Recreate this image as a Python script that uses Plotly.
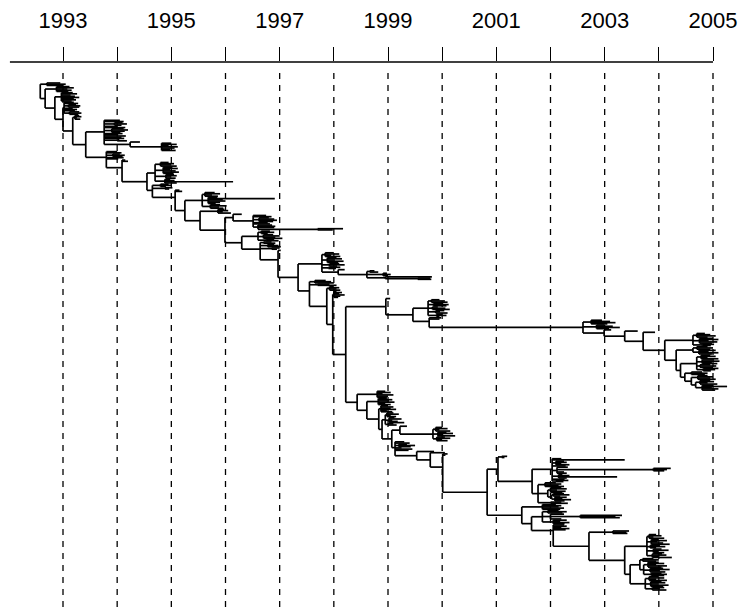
import re
import plotly.graph_objects as go

# Dated phylogeny.  Every node is written as "(child,child,...)date" and every
# tip as its sampling date (decimal years).  Clades are split into named
# pieces; "{NAME}" inserts another piece.
ROOT = "((1992.95,1993.05,1993.0)1992.7,((1993.12,1993.2,1993.08,1993.16,1993.1)1992.88,((1993.18,1993.26,1993.14,1993.22,1993.3,1993.2,1993.24,1993.16)1992.97,((1993.2,1993.28,(1993.24,1993.32,1993.3)1993.1,1993.18,1993.26,1993.22,(1993.3,1993.34,1993.28)1993.12)1993.02,((1993.3,1993.34,1993.26,1993.32)1993.22,{G})1993.18)1993.0)1992.85)1992.67)1992.58"
G = "({H},{I})1993.42"
H = "(1994.05,1994.12,(1994.1,1994.18,1994.08)1993.95,1994.0,1994.15,(1994.12,1994.2,1994.14,1994.06)1993.9,1994.1,1994.02,1994.16,1994.08,1994.13,(1994.04,1994.18)1994.0,{HSUB})1993.76"
HSUB = "(1994.42,(1995.0,1995.1,1994.95,1995.12,1995.06,1994.98,1995.08)1994.82)1994.24"
I = "(1994.0,1994.08,(1994.05,1994.14,1994.1)1993.92,1994.12,1994.02,(1994.15,1994.2,{J})1994.09)1993.8"
J = "({K},{L})1994.55"
K = "((1994.95,1995.05,1995.0,1995.1)1994.8,(1995.02,1995.12,1994.98,1995.08,1995.14,1995.04)1994.85,(1995.05,1995.1,1995.0,1995.08)1994.9,(1994.98,1995.06,1996.14,1995.1)1994.88)1994.7"
L = "((1994.95,1995.0,1994.9)1994.8,(1995.02,1994.96)1994.88,{M})1994.65"
M = "(1995.15,1995.2,{N})1995.07"
N = "({O},{P})1995.25"
O = "((1995.8,1995.9,1995.75,1995.86)1995.62,(1995.85,1996.91,1995.95,1996.0,1995.9,1995.82)1995.68,(1995.9,1996.02,1995.88,1995.96)1995.72)1995.57"
P = "({Q},{R2})1995.53"
Q = "(1995.98,1996.05,1995.95,1996.1)1995.86"
R2 = "({S},{T})1995.99"
S = "(1996.3,(1996.75,1996.85,(1996.8,1996.9,1996.95,1996.88)1996.62,1996.78,1996.82,(1996.86,1996.92,1996.9,(1998.17,1997.98)1997.7)1996.6)1996.51)1996.14"
T = "({U},{V})1996.3"
U = "((1996.82,1996.9,1996.78)1996.66,(1996.88,1997.0,1996.92,1997.05)1996.7,(1996.9,1996.98)1996.75)1996.6"
V = "((1996.85,1996.92)1996.7,(1996.9,1996.98,1997.02)1996.78,(1997.0,1996.95)1996.85,(1997.02,1996.98,{W})1996.97)1996.64"
W = "({X1},{Y1})1997.34"
X1 = "((1998.0,1998.1,1997.95,1998.12)1997.84,(1998.05,1998.15,1998.02,1998.18,1998.08)1997.88,(1998.1,1998.2,1998.06)1997.92,(1998.12,1998.04)1997.9,(1998.2,{X1B})1998.08)1997.78"
X1B = "((1998.75,1998.82)1998.66,(1998.98,1999.05,1999.0)1998.91,(1999.81,(1999.78,1999.8)1999.55)1998.95)1998.61"
Y1 = "((1997.85,1997.95,1998.0)1997.65,(1997.92,1998.05)1997.7,{N327})1997.55"
N327 = "((1998.0,1998.1,1998.05,1998.12)1997.92,{Z})1997.87"
Z = "((1998.05,1998.15,1998.1,1998.2,1998.12,1998.08)1998.0,{AA})1997.98"
AA = "({BB},{GG})1998.22"
BB = "(1999.04,{CC})1998.96"
CC = "({DD},{EE})1999.46"
DD = "((1999.95,2000.05,2000.1)1999.8,(2000.02,2000.12,2000.08)1999.84,(1999.92,2000.06,2000.14)1999.82,(2000.04,1999.96,2000.1)1999.88,(2000.0,2000.08,1999.95)1999.9)1999.74"
EE = "(1999.98,1999.95,{FF})1999.76"
FF = "((2002.95,2003.1,2003.2,2003.05)2002.75,(2003.0,2003.15,2003.28,2003.08)2002.85,{N605})2002.6"
N605 = "(2003.12,{N625})2002.99"
N625 = "(2003.61,{N643})2003.37"
N643 = "(2003.93,{N665})2003.71"
N665 = "({C1},{N676})2004.11"
C1 = "((2004.85,2004.95,2005.05,2004.9)2004.7,(2005.0,2005.1,2004.92,2005.08,2004.98)2004.75,(2005.02,2004.96)2004.8)2004.63"
N676 = "({C2},{N680})2004.32"
C2 = "((2004.9,2005.0,2004.95)2004.7,(2005.05,2004.92,2005.1,2004.98)2004.74)2004.63"
N680 = "({C3},{C4})2004.4"
C3 = "((2004.95,2005.05,2004.9,2005.1)2004.78,(2005.02,2005.12,2004.98,2005.08)2004.8,(2004.95,2005.06,2005.0)2004.76,(2005.1,2005.04,2004.96)2004.82)2004.7"
C4 = "((2004.8,2004.9,2004.85)2004.6,((2004.9,2005.0,2004.95,2005.05)2004.72,((2004.95,2005.02,2004.9,2005.08)2004.76,(2005.0,2005.26,2004.98,2005.1,2005.04)2004.8)2004.68)2004.6)2004.48"
GG = "({G1},{G367})1998.43"
G1 = "(1998.95,1999.05,1998.9,1999.1,1999.0,1998.98)1998.8"
G367 = "({G2},{G379})1998.61"
G2 = "(1998.98,1999.08,1999.02,1999.12,1998.95,1999.05)1998.82"
G379 = "({G3},{G382})1998.83"
G3 = "(1999.0,1999.1,1999.05,1999.15,1998.98,1999.08)1998.87"
G382 = "({G4},{G392})1998.89"
G4 = "((1999.1,1999.2,1999.05,1999.15)1998.98,(1999.12,1999.25,1999.08,1999.18,1999.3)1999.02,(1999.1,1999.16)1999.0)1998.95"
G392 = "((1999.35,{G5})1999.22,{G395})1999.07"
G5 = "((2000.0,2000.1,1999.95,2000.15)1999.88,(2000.08,2000.2,2000.02,2000.24)1999.92,(2000.05,2000.15,2000.0,2000.1)1999.9)1999.83"
G395 = "(1999.3,1999.4,(1999.35,1999.5,1999.42)1999.2,1999.25,1999.45,1999.38,{G417})1999.13"
G417 = "(1999.85,{G435})1999.53"
G435 = "(2000.05,{G443})1999.78"
G443 = "(2000.1,2000.06,{HH})2000.01"
HH = "({II},{KK})2000.83"
II = "((2001.2,2001.15)2001.1,{JJ})2001.03"
JJ = "({CLA},{CLB})2001.66"
CLA = "(2002.2,2003.37,(2002.25,2002.3,2002.2,2002.35)2002.1,2002.28,(2002.32,(2004.22,2004.15,2004.1)2003.9,2002.25,2002.3)2002.12,(2002.22,2002.35,2003.23,2002.3)2002.15,2002.26,(2002.33,2002.24)2002.1)2002.03"
CLB = "((2002.1,2002.2,2002.15,2002.25)2001.9,((2002.2,2002.3,2002.12,2002.28,2002.22)2002.0,((2002.25,2002.35,2002.18)2002.05,(2002.3,2002.22,2002.38,2002.26)2002.08)2002.02)2001.95,(2002.2,2002.32)2002.0)2001.77"
KK = "({KK1},{KK2})2001.47"
KK1 = "(2002.1,2002.2,2002.15,2002.25,2002.18)2001.85"
KK2 = "({KK3},{N553})2001.65"
KK3 = "((2002.15,2002.3,2002.22)2001.95,(2002.25,(2003.32,2003.2,2003.28)2002.55,2002.2)2002.0,(2002.3,2002.18,2002.35,2002.26)2002.05)2001.85"
N553 = "(2002.25,2002.3,2002.2,2002.35,2002.28,{LL})2002.05"
LL = "((2003.45,2003.4,2003.42)2003.15,{MM})2002.71"
MM = "({MM1},{NN})2003.37"
MM1 = "((2003.95,2004.05,2003.9,2004.1)2003.82,(2004.0,2004.15,2003.98,2004.08,2004.2)2003.86,(2004.02,2004.12,2003.95)2003.84,(2004.05,2004.18,2004.0,2004.1)2003.9,(2004.06,2004.14,2004.0,2004.24)2003.88)2003.78"
NN = "({NN1},{NN2})2003.47"
NN1 = "((2003.9,2004.0,2003.95)2003.7,((2004.0,2004.1,2003.95,2004.15,2004.05)2003.8,(2004.08,2004.2,2004.02,2004.12)2003.84,(2004.05,2004.15,2004.1)2003.86)2003.72)2003.65"
NN2 = "((2004.0,2004.1,2003.95,2004.15)2003.82,(2004.05,2004.12,2004.0,2004.18,2004.08)2003.85,(2004.1,2004.02,2004.14)2003.88)2003.75"

# Time axis
grid_years = list(range(1993, 2006))
tick_labels = [str(y) if y % 2 else "" for y in grid_years]
axis_start = 1992.02
axis_end = 2005.0

CLADES = {k: v for k, v in globals().items() if k.isupper() and isinstance(v, str) and k != "ROOT"}


def expand(text):
    return re.sub(r"\{(\w+)\}", lambda m: expand(CLADES[m.group(1)]), text)


def parse(s):
    pos = 0
    num = re.compile(r"[0-9.]+")

    def number():
        nonlocal pos
        m = num.match(s, pos)
        pos = m.end()
        return float(m.group())

    def node():
        nonlocal pos
        if s[pos] == "(":
            pos += 1
            kids = [node()]
            while s[pos] == ",":
                pos += 1
                kids.append(node())
            pos += 1  # closing bracket
            return {"t": number(), "kids": kids}
        return {"t": number(), "kids": []}

    return node()


tree = parse(expand(ROOT))

# phylogram layout: tips stacked in order, nodes at the mean of their children
n_tips = 0


def place(n):
    global n_tips
    if not n["kids"]:
        n["y"] = n_tips
        n_tips += 1
    else:
        for k in n["kids"]:
            place(k)
        n["y"] = sum(k["y"] for k in n["kids"]) / len(n["kids"])


place(tree)

xs, ys = [], []


def edges(n):
    if not n["kids"]:
        return
    ky = [k["y"] for k in n["kids"]]
    xs.extend([n["t"], n["t"], None])
    ys.extend([min(ky), max(ky), None])
    for k in n["kids"]:
        xs.extend([n["t"], k["t"], None])
        ys.extend([k["y"], k["y"], None])
        edges(k)


edges(tree)

W_PX, H_PX, TOP = 741, 613, 62
first_tip_px, last_tip_px = 83, 590
per_tip = (last_tip_px - first_tip_px) / (n_tips - 1)
y_top = -(first_tip_px - TOP) / per_tip
y_bottom = (n_tips - 1) + (H_PX - last_tip_px) / per_tip

fig = go.Figure()
fig.add_trace(go.Scatter(x=xs, y=ys, mode="lines",
                         line=dict(color="#000000", width=1.7),
                         hoverinfo="skip", showlegend=False))

dash_top = (H_PX - 73) / (H_PX - TOP)
for yr in grid_years:
    fig.add_shape(type="line", xref="x", yref="paper", x0=yr, x1=yr,
                  y0=dash_top, y1=0, layer="below",
                  line=dict(color="#000000", width=1.3, dash="6px,6px"))
fig.add_shape(type="line", xref="x", yref="paper", x0=axis_start, x1=axis_end,
              y0=1, y1=1, line=dict(color="#000000", width=1.3))

x_lo = 1993 - 63 / (650 / 12)
x_hi = 1993 + (W_PX - 63) / (650 / 12)
fig.update_layout(
    width=W_PX, height=H_PX,
    margin=dict(l=0, r=0, t=TOP, b=0),
    paper_bgcolor="white", plot_bgcolor="white",
    font=dict(family="Liberation Sans, Arial, sans-serif", color="#000000"),
    xaxis=dict(range=[x_lo, x_hi], side="top", showgrid=False, zeroline=False,
               showline=False, ticks="outside", ticklen=14, tickwidth=1.3,
               tickcolor="#000000", tickvals=grid_years, ticktext=tick_labels,
               tickfont=dict(size=22), ticklabelstandoff=10),
    yaxis=dict(range=[y_bottom, y_top], visible=False),
)

fig.write_html("out.html")
